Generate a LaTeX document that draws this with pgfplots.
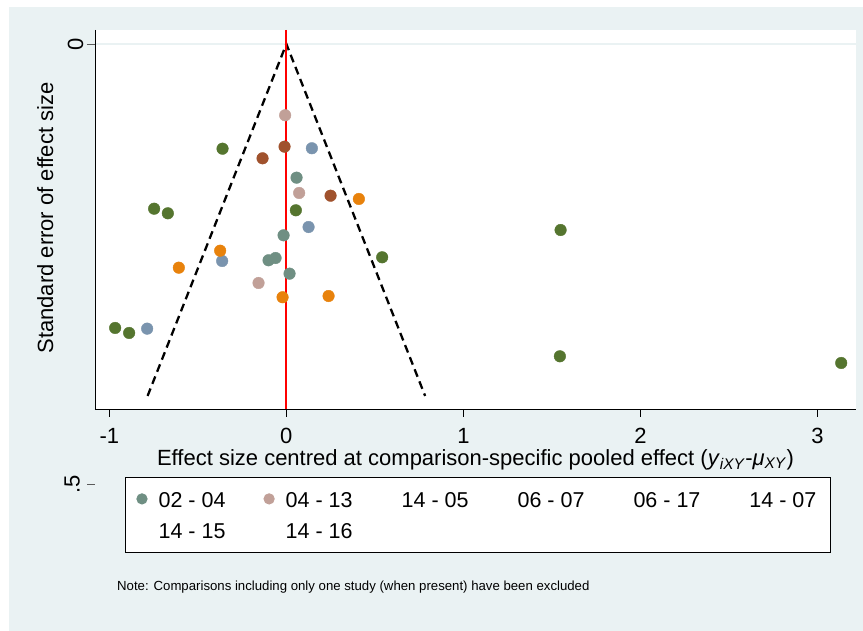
\documentclass[border=0pt]{standalone}
\usepackage{pgfplots}
\pgfplotsset{compat=1.18}
\usepackage{fontspec}
\setmainfont{Liberation Sans}
\definecolor{bgc}{RGB}{234,242,243}
\definecolor{cteal}{RGB}{111,143,131}
\definecolor{crose}{RGB}{193,160,152}
\definecolor{csienna}{RGB}{160,82,45}
\definecolor{cblue}{RGB}{122,148,174}
\definecolor{corange}{RGB}{232,130,12}
\definecolor{cgreen}{RGB}{85,117,47}
\definecolor{ctick}{RGB}{90,90,90}
\newcommand{\bigfont}{\fontsize{22}{26}\selectfont}
\newcommand{\legfont}{\fontsize{21.5}{25}\selectfont}
\begin{document}
\begin{tikzpicture}[x=1pt,y=1pt]
\useasboundingbox (0,0) rectangle (863,631);
\fill[white] (0,0) rectangle (863,631);
\fill[bgc] (9,0) rectangle (863,624);
\begin{axis}[
  at={(95pt,222pt)}, anchor=south west,
  scale only axis, width=761pt, height=379pt,
  xmin=-1.081, xmax=3.218, ymin=-0.0159, ymax=0.4148,
  y dir=reverse,
  clip=false,
  axis background/.style={fill=white},
  axis x line*=bottom, axis y line*=left,
  axis line style={black, line width=0.9pt, -},
  xtick={-1,0,1,2,3}, xticklabels={-1,0,1,2,3},
  ytick={0}, yticklabels={0},
  tick align=outside, major tick length=8pt,
  x tick style={black, line width=0.9pt},
  y tick style={ctick, line width=0.9pt},
  ymajorgrids, major grid style={bgc, line width=1.2pt},
  tick label style={font=\bigfont},
  xticklabel style={inner ysep=0.5pt, yshift=-10.5pt},
  yticklabel style={rotate=90, anchor=south},
  xlabel={Effect size centred at comparison-specific pooled effect (\textit{y}\textsubscript{\textit{iXY}}-\textit{μ}\textsubscript{\textit{XY}})},
  ylabel={Standard error of effect size},
  label style={font=\bigfont},
  xlabel style={at={(axis description cs:0.5,-0.1480)}, anchor=base, inner ysep=0.5pt},
  ylabel style={at={(axis description cs:-0.0653,0.504)}, anchor=center},
  legend columns=6,
  legend cell align=left,
  legend style={at={(axis description cs:0.0394,-0.1794)}, anchor=north west,
    draw=black, line width=0.8pt, fill=white, font=\legfont,
    inner xsep=11pt, inner ysep=10pt,
    nodes={inner sep=3pt, text height=17pt, text depth=1pt},
    row sep=7pt,
    /tikz/every odd column/.append style={column sep=8pt},
    /tikz/every even column/.append style={column sep=35pt}},
]
% 02 - 04
\addplot[only marks, mark=*, mark size=5.8pt, color=cteal,
  legend image code/.code={\fill[cteal] (5pt,0.5pt) circle (5.2pt);}]
  coordinates {(0.0576,0.1519) (-0.0158,0.2174) (-0.1006,0.2458) (-0.0610,0.2432) (0.0181,0.2610)};
\addlegendentry{02 - 04}
% 04 - 13
\addplot[only marks, mark=*, mark size=5.8pt, color=crose,
  legend image code/.code={\fill[crose] (5pt,0.5pt) circle (5.2pt);}]
  coordinates {(-0.0068,0.0810) (0.0723,0.1693) (-0.1571,0.2716)};
\addlegendentry{04 - 13}
% 14 - 05
\addplot[only marks, mark=*, mark size=5.8pt, color=csienna,
  legend image code/.code={}]
  coordinates {(-0.0102,0.1167) (-0.1345,0.1299) (0.2497,0.1724)};
\addlegendentry{14 - 05}
% 06 - 07
\addplot[only marks, mark=*, mark size=5.8pt, color=cblue,
  legend image code/.code={}]
  coordinates {(0.1441,0.1185) (0.1254,0.2080) (-0.3627,0.2466) (-0.7864,0.3235)};
\addlegendentry{06 - 07}
% 06 - 17
\addplot[only marks, mark=*, mark size=5.8pt, color=corange,
  legend image code/.code={}]
  coordinates {(0.4096,0.1761) (-0.3740,0.2349) (-0.6073,0.2542) (-0.0215,0.2878) (0.2384,0.2864)};
\addlegendentry{06 - 17}
% 14 - 07
\addplot[only marks, mark=*, mark size=5.8pt, color=cgreen,
  legend image code/.code={}]
  coordinates {(-0.3605,0.1190) (-0.7469,0.1872) (-0.6695,0.1924) (0.0537,0.1890) (0.5412,0.2424)
    (-0.9672,0.3227) (-0.8881,0.3284) (1.5492,0.2114) (1.5452,0.3549) (3.1345,0.3625)};
\addlegendentry{14 - 07}
\addlegendimage{legend image code/.code={}}
\addlegendentry{14 - 15}
\addlegendimage{legend image code/.code={}}
\addlegendentry{14 - 16}
% funnel
\addplot[black, line width=2.3pt, dash pattern=on 8pt off 5pt, forget plot]
  coordinates {(-0.784,0.4) (0,0) (0.784,0.4)};
% line of no effect
\addplot[red, line width=2pt, forget plot]
  coordinates {(0,-0.0159) (0,0.4148)};
% y tick .5 (outside the plot region, as in the original)
\draw[ctick, line width=0.9pt] (axis cs:-1.081,0.5) -- ++(-8pt,0pt);
\node[rotate=90, anchor=south, font=\bigfont, inner sep=7pt] at ([xshift=-8pt]axis cs:-1.081,0.5) {.5};
\end{axis}
\node[anchor=west, font=\fontsize{13.2}{15}\selectfont, inner sep=0pt] at (117,44)
  {Note: Comparisons including only one study (when present) have been excluded};
\end{tikzpicture}
\end{document}
